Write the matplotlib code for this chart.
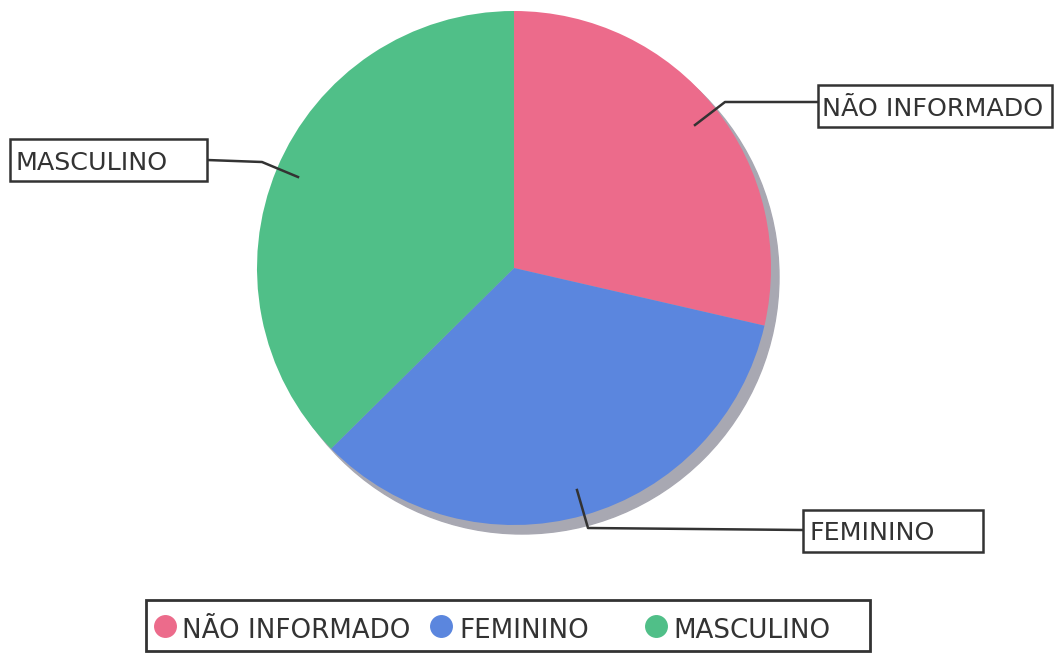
import matplotlib.pyplot as plt
from matplotlib.patches import Circle, Rectangle

# dados do grafico (sexo)
categorias = ['NÃO INFORMADO', 'FEMININO', 'MASCULINO']
valores = [28.6, 34.0, 37.4]
cores = ['#ec6b8b', '#5b86de', '#50bf88']

W, H = 1057, 655
fig = plt.figure(figsize=(W / 100, H / 100), dpi=100)
ax = fig.add_axes([0, 0, 1, 1])

cx, cy, r = 514, H - 268, 257
escuro = '#333333'
fs = 18.3

# sombra
ax.add_patch(Circle((cx + 8, cy - 9), r, color='#a8a8b2', zorder=1))
ax.pie(valores, colors=cores, startangle=90, counterclock=False,
       center=(cx, cy), radius=r, frame=True,
       wedgeprops=dict(linewidth=0, zorder=2))
ax.set_xlim(0, W)
ax.set_ylim(0, H)
ax.set_aspect('equal')
ax.axis('off')


def caixa(x0, y0, x1, y1, texto, tx):
    # retangulo em coordenadas de pixel (y para baixo)
    ax.add_patch(Rectangle((x0, H - y1), x1 - x0, y1 - y0, fc='white', ec=escuro, lw=1.8, zorder=4))
    ax.text(tx, H - (y0 + y1) / 2, texto, fontsize=fs, color=escuro, va='center_baseline', ha='left', zorder=5)


# rotulos com linhas
ax.plot([695, 725, 818], [H - 125, H - 102, H - 102], color=escuro, lw=1.8, zorder=3)
caixa(818, 85, 1052, 127, categorias[0], 822)

ax.plot([577, 588, 803], [H - 490, H - 528, H - 530], color=escuro, lw=1.8, zorder=3)
caixa(803, 510, 983, 552, categorias[1], 809)

ax.plot([298, 262, 207], [H - 177, H - 162, H - 160], color=escuro, lw=1.8, zorder=3)
caixa(10, 139, 207, 181, categorias[2], 15)

# legenda
ax.add_patch(Rectangle((146, H - 651), 724, 51, fc='white', ec=escuro, lw=2, zorder=4))
pos_marca = [165, 441, 656]
pos_texto = [182, 459, 673]
for c, nome, xm, xt in zip(cores, categorias, pos_marca, pos_texto):
    ax.scatter([xm], [H - 626], s=240, color=c, zorder=5)
    ax.text(xt, H - 628, nome, fontsize=18.8, color=escuro, va='center_baseline', ha='left', zorder=5)

fig.savefig('out.png', dpi=100)
